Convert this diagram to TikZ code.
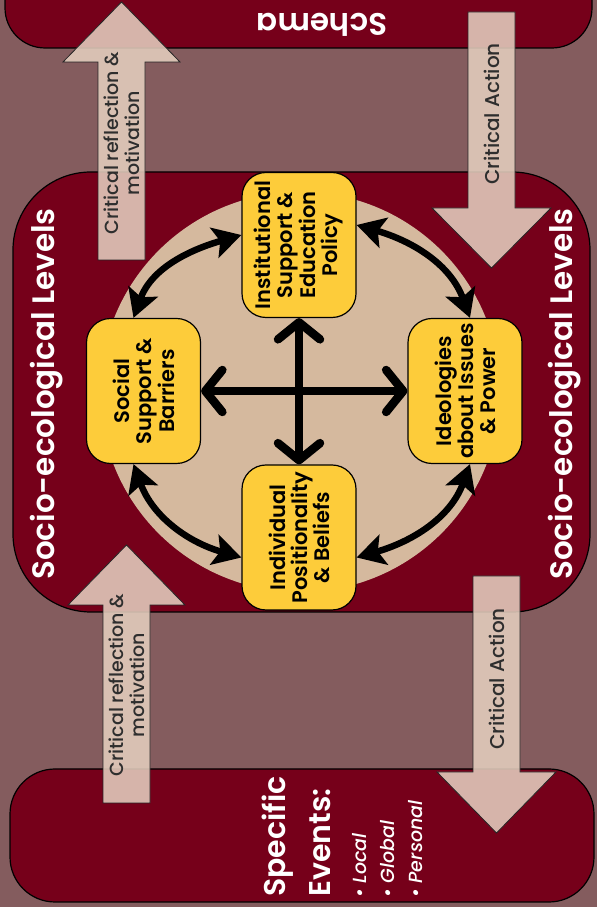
\documentclass[tikz,border=0pt]{standalone}
\usepackage{fontspec}
\setmainfont{Poppins}
\newfontfamily\semibold{Poppins SemiBold}
\newfontfamily\medium{Poppins Medium}
\usetikzlibrary{arrows.meta}
\definecolor{mauve}{HTML}{845C5E}
\definecolor{wine}{HTML}{76001A}
\definecolor{sand}{HTML}{D5B99E}
\definecolor{gold}{HTML}{FDCC3A}
\definecolor{blush}{HTML}{E4CEBE}
\definecolor{ink}{HTML}{2E2E2E}
\begin{document}
\begin{tikzpicture}[x=1pt, y=1pt,
  box/.style={draw, line width=1.2pt, fill=gold, rounded corners=24pt, rotate=90,
    minimum width=145pt, minimum height=114pt, align=center, inner sep=2pt,
    font=\fontsize{21}{22}\semibold},
  heading/.style={text=white, font=\fontsize{31}{36}\semibold},
  band/.style={draw, line width=1.2pt, fill=wine},
  swing/.style={line width=6.5pt, {Stealth[length=28pt,width=31pt,inset=6pt]}-{Stealth[length=28pt,width=31pt,inset=6pt]}},
  crossarrow/.style={line width=8.5pt, {Straight Barb[length=17pt,width=42pt,round]}-{Straight Barb[length=17pt,width=42pt,round]}},
  block/.style={draw=black!85, line width=0.8pt, fill=blush, fill opacity=0.88},
  blocktext/.style={text=ink, rotate=90, align=center, font=\fontsize{19}{21}\medium}]
\clip (0,0) rectangle (597,907);
\fill[mauve] (0,0) rectangle (597,907);

% bands
\draw[band, rounded corners=40pt] (5,859) rectangle (592,960);
\draw[band, rounded corners=78pt] (13,295) rectangle (590,735);
\draw[band, rounded corners=45pt] (10,5) rectangle (594,138);
\node[circle, fill=sand, minimum size=400pt] (ring) at (300,515) {};

\node[heading, rotate=180] (schema) at (322,882) {Schema};
\node[heading, rotate=90] (levelsleft) at (47,513) {Socio-ecological Levels};
\node[heading, rotate=90] (levelsright) at (565,513) {Socio-ecological Levels};
\node[text=white, rotate=90, anchor=north west, align=left, inner sep=0,
  font=\fontsize{30}{45}\semibold] (events) at (262,10) {Specific\\Events:};
\node[text=white, rotate=90, anchor=north west, align=left, inner sep=0,
  font=\fontsize{19}{28}\medium\itshape] (eventlist) at (352,9) {\textbullet\ Local\\\textbullet\ Global\\\textbullet\ Personal};

% levels
\node[box] (institutional) at (299,662) {Institutional\\Support \&\\Education\\Policy};
\node[box] (social) at (143.5,516) {Social\\Support \&\\Barriers};
\node[box] (ideologies) at (465,516) {Ideologies\\about Issues\\\& Power};
\node[box] (individual) at (299,369.5) {Individual\\Positionality\\\& Beliefs};

\draw[crossarrow] (social) -- (ideologies);
\draw[crossarrow] (institutional) -- (individual);

\draw[swing] ([xshift=-10pt]social.east) to[out=70,in=196] ([yshift=10pt]institutional.north);
\draw[swing] ([yshift=20pt]institutional.south) to[out=-16,in=110] ([xshift=5pt]ideologies.east);
\draw[swing] ([xshift=5pt]ideologies.west) to[out=250,in=16] ([yshift=-20pt]individual.south);
\draw[swing] ([xshift=-10pt]social.west) to[out=290,in=164] ([yshift=-20pt]individual.north);

% block arrows
\draw[block] (98,647) -- (98,845) -- (63,845) -- (121.5,905) -- (180,845) -- (145,845) -- (145,647) -- cycle;
\draw[block] (468,895) -- (468,699) -- (432,699) -- (491.5,639) -- (551,699) -- (515,699) -- (515,895) -- cycle;
\draw[block] (103,104) -- (103,302) -- (68,302) -- (126.5,362) -- (185,302) -- (150,302) -- (150,104) -- cycle;
\draw[block] (473,331) -- (473,135) -- (437,135) -- (496.5,74) -- (556,135) -- (520,135) -- (520,331) -- cycle;

\node[blocktext] (reflecttop) at (122,764) {Critical reflection \&\\motivation};
\node[blocktext, font=\fontsize{20}{22}\medium] (actiontop) at (491.5,793) {Critical Action};
\node[blocktext] (reflectbottom) at (127,222) {Critical reflection \&\\motivation};
\node[blocktext, font=\fontsize{20}{22}\medium] (actionbottom) at (497,228) {Critical Action};
\end{tikzpicture}
\end{document}
